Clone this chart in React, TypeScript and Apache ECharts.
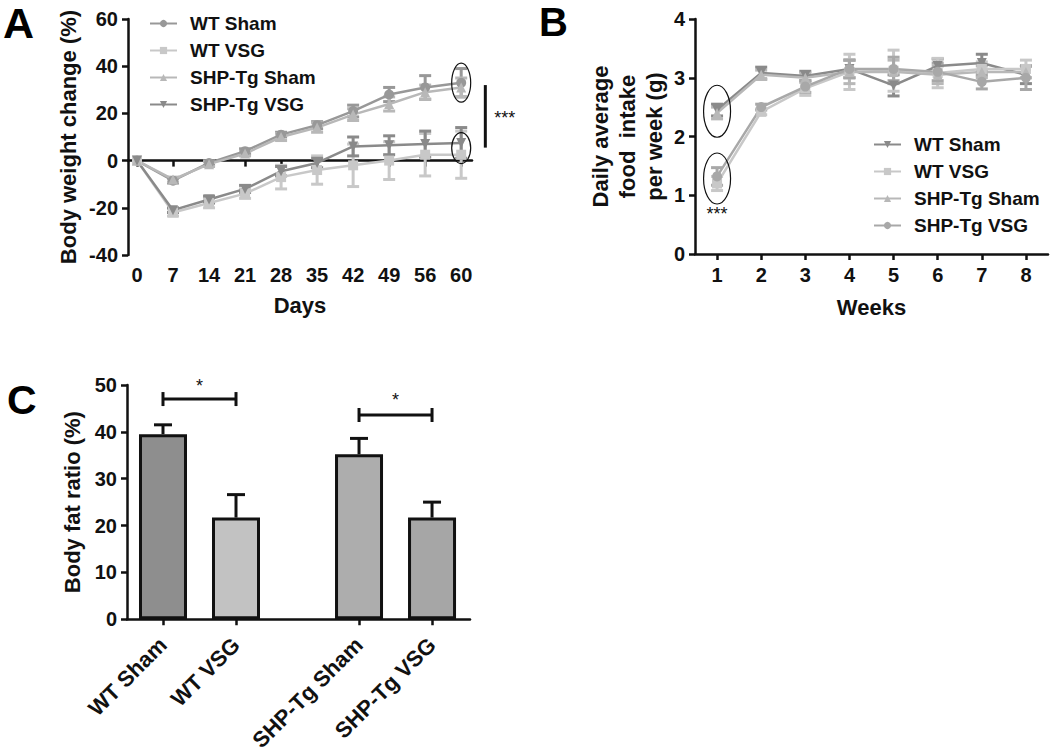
import React, { useEffect, useRef } from "react";
import * as echarts from "echarts";

// ---------- Panel A: body weight change (%) ----------
const daysLabels = ["0", "7", "14", "21", "28", "35", "42", "49", "56", "60"];
const aWtSham = [0, -8.5, -1, 4, 11, 15, 21, 28, 31, 33];
const aWtShamErr = [0, 1, 1, 1, 1, 1.5, 2.5, 3, 5, 6];
const aWtVsg = [0, -22, -18, -14, -7, -4, -2, 0, 2.5, 2.5];
const aWtVsgErr = [0, 1.5, 2, 2, 5, 6, 9, 8, 9, 10];
const aShpSham = [0, -8, -1.5, 3, 10, 14, 19.5, 24, 29, 31];
const aShpShamErr = [0, 1, 1, 1, 1.5, 2, 2.5, 3, 3, 4];
const aShpVsg = [0, -21, -16.5, -12, -4.5, -1, 6, 6.5, 7, 7.5];
const aShpVsgErr = [0, 1, 1.5, 1.5, 2, 2, 4, 4, 5.5, 6.5];

// ---------- Panel B: daily average food intake per week (g) ----------
const weeks = [1, 2, 3, 4, 5, 6, 7, 8];
const bWtSham = [2.45, 3.08, 3.03, 3.15, 2.87, 3.2, 3.25, 3.05];
const bWtShamErr = [0.1, 0.1, 0.08, 0.15, 0.18, 0.12, 0.15, 0.15];
const bWtVsg = [1.2, 2.42, 2.82, 3.1, 3.12, 3.08, 3.15, 3.15];
const bWtVsgErr = [0.12, 0.05, 0.12, 0.3, 0.35, 0.25, 0.12, 0.15];
const bShpSham = [2.4, 3.05, 3.0, 3.1, 3.1, 3.05, 3.1, 3.1];
const bShpShamErr = [0.1, 0.08, 0.08, 0.2, 0.2, 0.15, 0.1, 0.1];
const bShpVsg = [1.32, 2.5, 2.85, 3.15, 3.15, 3.1, 2.93, 3.0];
const bShpVsgErr = [0.15, 0.05, 0.1, 0.15, 0.2, 0.15, 0.12, 0.2];

// ---------- Panel C: body fat ratio (%) ----------
const cGroups = ["WT Sham", "WT VSG", "SHP-Tg Sham", "SHP-Tg VSG"];
const cValues = [39.5, 21.7, 35.2, 21.7];
const cErr = [2.0, 4.9, 3.4, 3.3];

const FONT = "Liberation Sans, Arial, sans-serif";
const DOWN_TRI = "path://M0,0 L10,0 L5,9 Z";

// layout helper: position of bar i in panel C (gap between the two genotype pairs)
const cPos = (i: number) => i + (i >= 2 ? 0.685 : 0);

const errRender =
  (capHalf: number, upOnly: boolean, lw: number) => (_params: any, api: any) => {
    const x = api.value(0);
    const y = api.value(1);
    const e = api.value(2);
    if (!e) return { type: "group", children: [] };
    const top = api.coord([x, y + e]);
    const bot = api.coord([x, upOnly ? y : y - e]);
    const style = { stroke: api.visual("color"), lineWidth: lw, fill: "none" };
    const children: any[] = [
      { type: "line", shape: { x1: top[0], y1: top[1], x2: bot[0], y2: bot[1] }, style },
      { type: "line", shape: { x1: top[0] - capHalf, y1: top[1], x2: top[0] + capHalf, y2: top[1] }, style },
    ];
    if (!upOnly) {
      children.push({
        type: "line",
        shape: { x1: bot[0] - capHalf, y1: bot[1], x2: bot[0] + capHalf, y2: bot[1] },
        style,
      });
    }
    return { type: "group", children };
  };

export default function App() {
  const ref = useRef<HTMLDivElement>(null);

  useEffect(() => {
    if (!ref.current) return;
    const chart = echarts.init(ref.current, undefined, { renderer: "svg" });

    const axisLabelStyle = { fontFamily: FONT, fontWeight: "bold", fontSize: 20, color: "#111" };
    const legendText = { fontFamily: FONT, fontWeight: "bold", fontSize: 19, color: "#111" };
    const nameStyle = { fontFamily: FONT, fontWeight: "bold", fontSize: 22, color: "#111" };
    const blackLine = { lineStyle: { color: "#111", width: 2.5 } };

    const aSets = [
      { name: "A|WT Sham", vals: aWtSham, err: aWtShamErr, color: "#989898", symbol: "circle" },
      { name: "A|WT VSG", vals: aWtVsg, err: aWtVsgErr, color: "#c8c8c8", symbol: "rect" },
      { name: "A|SHP-Tg Sham", vals: aShpSham, err: aShpShamErr, color: "#b8b8b8", symbol: "triangle" },
      { name: "A|SHP-Tg VSG", vals: aShpVsg, err: aShpVsgErr, color: "#8a8a8a", symbol: DOWN_TRI },
    ];
    const bSets = [
      { name: "B|WT Sham", vals: bWtSham, err: bWtShamErr, color: "#8a8a8a", symbol: DOWN_TRI },
      { name: "B|WT VSG", vals: bWtVsg, err: bWtVsgErr, color: "#c8c8c8", symbol: "rect" },
      { name: "B|SHP-Tg Sham", vals: bShpSham, err: bShpShamErr, color: "#b8b8b8", symbol: "triangle" },
      { name: "B|SHP-Tg VSG", vals: bShpVsg, err: bShpVsgErr, color: "#a8a8a8", symbol: "circle" },
    ];
    const cColors = ["#8e8e8e", "#c2c2c2", "#adadad", "#a6a6a6"];

    const series: any[] = [];
    aSets.forEach((s, k) => {
      series.push({
        type: "custom",
        name: "errA" + k,
        xAxisIndex: 0,
        yAxisIndex: 0,
        itemStyle: { color: s.color },
        renderItem: errRender(6, false, 3),
        data: s.vals.map((v, i) => [i, v, s.err[i]]),
        z: 2,
      });
      series.push({
        type: "line",
        name: s.name,
        xAxisIndex: 0,
        yAxisIndex: 0,
        data: s.vals.map((v, i) => [i, v]),
        symbol: s.symbol,
        symbolSize: 10,
        lineStyle: { color: s.color, width: 2.5 },
        itemStyle: { color: s.color },
        z: 3,
      });
    });
    bSets.forEach((s, k) => {
      series.push({
        type: "custom",
        name: "errB" + k,
        xAxisIndex: 2,
        yAxisIndex: 1,
        itemStyle: { color: s.color },
        renderItem: errRender(6, false, 3),
        data: s.vals.map((v, i) => [weeks[i], v, s.err[i]]),
        z: 2,
      });
      series.push({
        type: "line",
        name: s.name,
        xAxisIndex: 2,
        yAxisIndex: 1,
        data: s.vals.map((v, i) => [weeks[i], v]),
        symbol: s.symbol,
        symbolSize: 10,
        lineStyle: { color: s.color, width: 2.5 },
        itemStyle: { color: s.color },
        z: 3,
      });
    });
    series.push({
      type: "custom",
      name: "errC",
      xAxisIndex: 3,
      yAxisIndex: 2,
      itemStyle: { color: "#111" },
      renderItem: errRender(9, true, 3),
      data: cValues.map((v, i) => [cPos(i), v, cErr[i]]),
      z: 1,
    });
    series.push({
      type: "bar",
      name: "C bars",
      xAxisIndex: 3,
      yAxisIndex: 2,
      barWidth: 48,
      data: cValues.map((v, i) => ({
        value: [cPos(i), v],
        itemStyle: { color: cColors[i], borderColor: "#111", borderWidth: 3 },
      })),
      z: 2,
    });

    const legendBase = {
      formatter: (n: string) => n.split("|")[1],
      orient: "vertical",
      itemWidth: 27,
      itemHeight: 9,
      itemGap: 8,
      selectedMode: false,
      textStyle: { ...legendText, lineHeight: 19, padding: [0, 0, 0, 8] },
    };

    const option: any = {
      animation: false,
      backgroundColor: "#fff",
      legend: [
        { ...legendBase, data: aSets.map((s) => s.name), left: 144, top: 9 },
        { ...legendBase, data: bSets.map((s) => s.name), left: 868, top: 130 },
      ],
      grid: [
        { left: 128, top: 19, width: 344, height: 236 },
        { left: 695, top: 19, width: 353, height: 235 },
        { left: 127, top: 385, width: 343, height: 237 },
      ],
      xAxis: [
        {
          type: "value",
          gridIndex: 0,
          min: -0.25,
          max: 9.3,
          position: "bottom",
          axisLine: { show: false, onZero: false },
          axisTick: { show: false },
          splitLine: { show: false },
          axisLabel: {
            ...axisLabelStyle,
            margin: 10,
            customValues: daysLabels.map((_, i) => i),
            formatter: (v: number) => daysLabels[Math.round(v)] ?? "",
          },
          name: "Days",
          nameLocation: "middle",
          nameGap: 39,
          nameTextStyle: nameStyle,
        },
        {
          type: "value",
          gridIndex: 0,
          min: -0.25,
          max: 9.3,
          position: "top",
          axisLine: { show: true, onZero: true, ...blackLine },
          axisTick: {
            show: true,
            inside: true,
            length: 6,
            lineStyle: { color: "#111", width: 2.5 },
            customValues: daysLabels.map((_, i) => i),
          },
          axisLabel: { show: false },
          splitLine: { show: false },
        },
        {
          type: "value",
          gridIndex: 1,
          min: 0.5,
          max: 8.5,
          axisLine: { show: true, onZero: false, ...blackLine },
          axisTick: {
            show: true,
            length: 6,
            lineStyle: { color: "#111", width: 2.5 },
            customValues: weeks,
          },
          axisLabel: { ...axisLabelStyle, margin: 11, customValues: weeks },
          splitLine: { show: false },
          name: "Weeks",
          nameLocation: "middle",
          nameGap: 42,
          nameTextStyle: nameStyle,
        },
        {
          type: "value",
          gridIndex: 2,
          min: -0.493,
          max: 4.205,
          axisLine: { show: true, onZero: false, ...blackLine },
          axisTick: {
            show: true,
            length: 6,
            lineStyle: { color: "#111", width: 2.5 },
            customValues: cGroups.map((_, i) => cPos(i)),
          },
          axisLabel: {
            ...axisLabelStyle,
            fontSize: 22,
            margin: 22,
            rotate: 45,
            customValues: cGroups.map((_, i) => cPos(i)),
            formatter: (v: number) => {
              const idx = cGroups.findIndex((_, i) => Math.abs(cPos(i) - v) < 0.01);
              return idx >= 0 ? cGroups[idx] : "";
            },
          },
          splitLine: { show: false },
        },
      ],
      yAxis: [
        {
          type: "value",
          gridIndex: 0,
          min: -40,
          max: 60,
          interval: 20,
          axisLine: { show: true, onZero: false, ...blackLine },
          axisTick: { show: true, length: 6, lineStyle: { color: "#111", width: 2.5 } },
          axisLabel: { ...axisLabelStyle, margin: 10 },
          splitLine: { show: false },
          name: "Body weight change (%)",
          nameLocation: "middle",
          nameGap: 49,
          nameTextStyle: nameStyle,
        },
        {
          type: "value",
          gridIndex: 1,
          min: 0,
          max: 4,
          interval: 1,
          axisLine: { show: true, onZero: false, ...blackLine },
          axisTick: { show: true, length: 6, lineStyle: { color: "#111", width: 2.5 } },
          axisLabel: { ...axisLabelStyle, margin: 10 },
          splitLine: { show: false },
          name: "Daily average\nfood  intake\nper week (g)",
          nameLocation: "middle",
          nameGap: 27,
          nameTextStyle: { ...nameStyle, lineHeight: 27 },
        },
        {
          type: "value",
          gridIndex: 2,
          min: 0,
          max: 50,
          interval: 10,
          axisLine: { show: true, onZero: false, ...blackLine },
          axisTick: { show: true, length: 6, lineStyle: { color: "#111", width: 2.5 } },
          axisLabel: { ...axisLabelStyle, margin: 10 },
          splitLine: { show: false },
          name: "Body fat ratio (%)",
          nameLocation: "middle",
          nameGap: 44,
          nameTextStyle: nameStyle,
        },
      ],
      series,
    };

    chart.setOption(option);

    // Annotations anchored to the data coordinates
    const pA = (xy: number[]) => chart.convertToPixel({ xAxisIndex: 0, yAxisIndex: 0 }, xy) as number[];
    const pB = (xy: number[]) => chart.convertToPixel({ xAxisIndex: 2, yAxisIndex: 1 }, xy) as number[];
    const pC = (xy: number[]) => chart.convertToPixel({ xAxisIndex: 3, yAxisIndex: 2 }, xy) as number[];
    const ell = (c: number[], rx: number, ry: number) => ({
      type: "ellipse",
      shape: { cx: c[0], cy: c[1], rx, ry },
      style: { fill: "none", stroke: "#111", lineWidth: 1.2 },
      z: 10,
    });
    const star = (c: number[], text: string, align = "center") => ({
      type: "text",
      x: c[0],
      y: c[1],
      style: { text, fontFamily: FONT, fontSize: 18, fill: "#111", align, verticalAlign: "middle" },
      z: 10,
    });
    const ln = (a: number[], b: number[], w = 3) => ({
      type: "line",
      shape: { x1: a[0], y1: a[1], x2: b[0], y2: b[1] },
      style: { stroke: "#111", lineWidth: w },
      z: 10,
    });
    const letter = (x: number, y: number, t: string, size: number) => ({
      type: "text",
      x,
      y,
      style: {
        text: t,
        fontFamily: FONT,
        fontWeight: "bold",
        fontSize: size,
        fill: "#000",
        verticalAlign: "middle",
      },
    });

    const graphics: any[] = [];
    graphics.push(letter(3, 23, "A", 43));
    graphics.push(letter(539, 22, "B", 40));
    graphics.push(letter(7, 400, "C", 41));

    graphics.push(ell(pA([9, 33]), 9.5, 19.5));
    graphics.push(ell(pA([9, 5.3]), 9.5, 15.5));
    graphics.push(ln(pA([9.67, 32]), pA([9.67, 5.5])));
    graphics.push(star([pA([9.67, 0])[0] + 9, pA([0, 18])[1]], "***", "left"));

    graphics.push(ell(pB([1, 2.43]), 13.5, 26));
    graphics.push(ell(pB([1, 1.285]), 13.5, 25.5));
    graphics.push(star([pB([1, 0])[0], pB([0, 0.68])[1]], "***"));

    const bracket = (i0: number, i1: number, y: number, sy: number) => {
      const a = pC([cPos(i0), y]);
      const b = pC([cPos(i1), y]);
      graphics.push(ln(a, b));
      graphics.push(ln([a[0], a[1] - 7], [a[0], a[1] + 7]));
      graphics.push(ln([b[0], b[1] - 7], [b[0], b[1] + 7]));
      graphics.push(star([(a[0] + b[0]) / 2, pC([0, sy])[1]], "*"));
    };
    bracket(0, 1, 47, 49.8);
    bracket(2, 3, 43.6, 46.8);

    chart.setOption({ graphic: graphics });

    return () => chart.dispose();
  }, []);

  return (
    <div
      ref={ref}
      style={{ position: "absolute", left: 0, top: 0, width: 1050, height: 754, background: "#fff" }}
    />
  );
}
